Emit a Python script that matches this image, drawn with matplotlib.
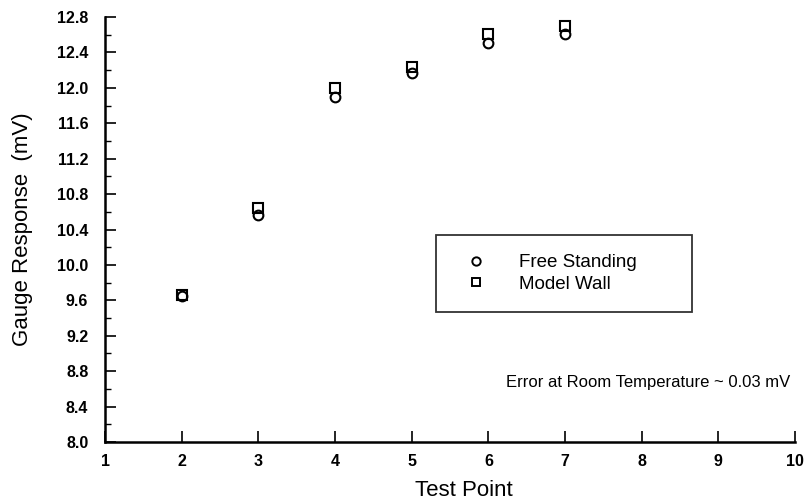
import matplotlib
matplotlib.use("Agg")
import matplotlib.pyplot as plt
from matplotlib.ticker import MultipleLocator, FixedLocator
from matplotlib.lines import Line2D

test_points = [2, 3, 4, 5, 6, 7]
free_standing = [9.65, 10.56, 11.90, 12.17, 12.51, 12.61]
model_wall = [9.66, 10.64, 12.00, 12.23, 12.61, 12.70]
x_ticks = [1, 2, 3, 4, 5, 6, 7, 8, 9, 10]
y_ticks = [8.0, 8.4, 8.8, 9.2, 9.6, 10.0, 10.4, 10.8, 11.2, 11.6, 12.0, 12.4, 12.8]

plt.rcParams['font.family'] = ['Liberation Sans', 'DejaVu Sans']

fig = plt.figure(figsize=(8.08, 5.0), dpi=100)
ax = fig.add_axes([0.130, 0.116, 0.854, 0.850])

ax.plot(test_points, free_standing, linestyle='none', marker='o', markersize=7,
        markerfacecolor='white', markeredgecolor='black', markeredgewidth=1.5)
ax.plot(test_points, model_wall, linestyle='none', marker='s', markersize=7,
        markerfacecolor='none', markeredgecolor='black', markeredgewidth=1.5)

ax.set_xlim(1, 10)
ax.set_ylim(8.0, 12.8)
ax.xaxis.set_major_locator(FixedLocator(x_ticks))
ax.yaxis.set_major_locator(FixedLocator(y_ticks))
ax.yaxis.set_minor_locator(MultipleLocator(0.2))
ax.set_xticklabels([str(v) for v in x_ticks])
ax.set_yticklabels([f"{v:.1f}" for v in y_ticks])

for s in ['top', 'right']:
    ax.spines[s].set_visible(False)
for s in ['left', 'bottom']:
    ax.spines[s].set_linewidth(1.8)

ax.tick_params(axis='both', which='major', direction='in', length=8, width=1.2,
               labelsize=11.5)
ax.tick_params(axis='y', which='major', pad=12)
ax.tick_params(axis='x', which='major', pad=9)
ax.tick_params(axis='y', which='minor', direction='in', length=4, width=1.0)
for lab in ax.get_xticklabels() + ax.get_yticklabels():
    lab.set_fontweight('bold')

ax.set_xlabel('Test Point', fontsize=16)
ax.xaxis.set_label_coords(0.52, -0.09)
ax.set_ylabel('Gauge Response  (mV)', fontsize=16)
ax.yaxis.set_label_coords(-0.105, 0.5)

handles = [
    Line2D([], [], linestyle='none', marker='o', markersize=6, markerfacecolor='white',
           markeredgecolor='black', markeredgewidth=1.4),
    Line2D([], [], linestyle='none', marker='s', markersize=6, markerfacecolor='white',
           markeredgecolor='black', markeredgewidth=1.4),
]
leg = ax.legend(handles, ['Free Standing', 'Model Wall'], loc='center left',
                bbox_to_anchor=(0.48, 0.294, 0.371, 0.205), mode='expand',
                fontsize=13.5, frameon=True, fancybox=False, edgecolor='black',
                borderpad=1.0, handletextpad=1.2, labelspacing=0.25,
                borderaxespad=0.0, handlelength=2.2)
leg.get_frame().set_linewidth(1.3)

ax.text(0.993, 0.141, 'Error at Room Temperature ~ 0.03 mV', transform=ax.transAxes,
        ha='right', va='center', fontsize=12)

fig.savefig('out.png', dpi=100)
